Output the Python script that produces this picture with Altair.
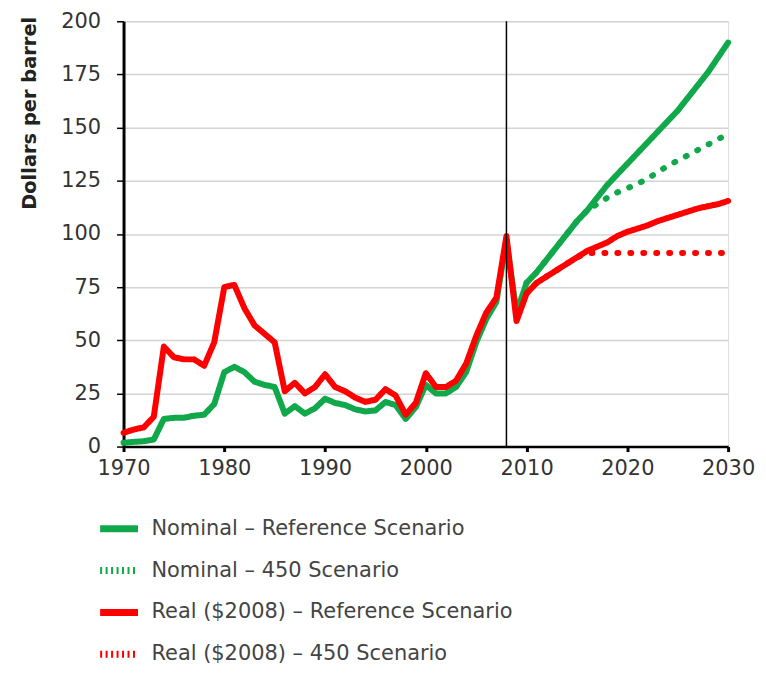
import altair as alt
import pandas as pd

years = list(range(1970, 2031))
proj_years = list(range(2010, 2031))

nominal_ref = [1.8, 2.2, 2.5, 3.3, 13, 13.5, 13.5, 14.5, 15, 20,
               35, 37.5, 35, 30.5, 29, 28, 15.5, 19, 15.5, 18,
               22.5, 20.5, 19.5, 17.5, 16.5, 17, 21, 19.5, 13, 18.5,
               29, 25, 25, 28, 35, 49, 60, 68, 97, 63,
               77, 82, 88, 94, 100, 106, 111, 117, 123, 128,
               133, 138, 143, 148, 153, 158, 164, 170, 176, 183, 190]
nominal_450 = [77, 82, 88, 94, 100, 106, 111, 114, 117, 119.5,
               121.5, 123.5, 126, 129, 132, 134.5, 137, 139.5, 142, 144.5, 147]
real_ref = [6.5, 8, 9, 14, 47, 42, 41, 41, 38, 49,
            75, 76, 65, 57, 53, 49, 26, 30, 25, 28,
            34, 28, 26, 23, 21, 22, 27, 24, 15, 20.5,
            34.5, 28, 28, 31, 39, 52, 63, 70, 99, 59,
            72, 77, 80, 83, 86, 89, 92, 94, 96, 99,
            101, 102.5, 104, 106, 107.5, 109, 110.5, 112, 113, 114, 115.5]
real_450 = [72, 77, 80, 83, 86, 89, 91, 91, 91, 91,
            91, 91, 91, 91, 91, 91, 91, 91, 91, 91, 91]

series_names = ["Nominal \u2013 Reference Scenario", "Nominal \u2013 450 Scenario",
                "Real ($2008) \u2013 Reference Scenario", "Real ($2008) \u2013 450 Scenario"]
colors = ["#10a84a", "#10a84a", "#ff0000", "#ff0000"]
line_dashes = [[1, 0], [1, 12], [1, 0], [1, 12]]
legend_dashes = [[1, 0], [2, 3.5], [1, 0], [2, 3.5]]
divider_year = 2008

rows = []
for name, xs, ys in [(series_names[1], proj_years, nominal_450),
                     (series_names[0], years, nominal_ref),
                     (series_names[3], proj_years, real_450),
                     (series_names[2], years, real_ref)]:
    for x, y in zip(xs, ys):
        rows.append({"year": x, "price": y, "series": name})
df = pd.DataFrame(rows)

FONT = "DejaVu Sans"

x_scale = alt.Scale(domain=[1970, 2030], nice=False)
y_scale = alt.Scale(domain=[0, 200], nice=False)
color_scale = alt.Scale(domain=series_names, range=colors)

x_enc = alt.X("year:Q", scale=x_scale,
              axis=alt.Axis(values=list(range(1970, 2031, 10)), format="d", title=None,
                            grid=False, domainColor="black", domainWidth=2.5,
                            tickColor="black", tickWidth=3, tickSize=5, labelFlush=False,
                            labelFontSize=21, labelColor="#333", labelFont=FONT,
                            labelPadding=6))
y_enc = alt.Y("price:Q", scale=y_scale,
              axis=alt.Axis(values=list(range(0, 201, 25)), title="Dollars per barrel",
                            grid=True, gridColor="#d4d4d4", gridWidth=1.5,
                            domainColor="black", domainWidth=3,
                            tickColor="black", tickWidth=1.5, tickSize=7,
                            labelFontSize=21, labelColor="#333", labelFont=FONT,
                            labelPadding=16,
                            titleFont=FONT, titleFontSize=19.5, titleFontWeight="bold",
                            titleColor="#222", titleAnchor="end", titleAngle=-90,
                            titleX=-94, titleY=-5, titleAlign="right", titleBaseline="middle"))

legend_cfg = dict(title=None, orient="none", legendX=-27, legendY=487,
                  direction="vertical", symbolType="stroke",
                  symbolSize=1444, symbolStrokeWidth=7,
                  labelFontSize=21, labelFont=FONT, labelColor="#444",
                  labelOffset=10, rowPadding=5, labelLimit=600)

lines = alt.Chart(df).mark_line(strokeWidth=6, strokeCap="round", strokeJoin="round").encode(
    x=x_enc,
    y=y_enc,
    color=alt.Color("series:N", scale=color_scale, legend=None),
    strokeDash=alt.StrokeDash("series:N", scale=alt.Scale(domain=series_names, range=line_dashes),
                              legend=None),
    detail="series:N",
)

legend_layer = alt.Chart(df).mark_line(strokeWidth=0, opacity=1).encode(
    x=alt.X("year:Q", scale=x_scale),
    y=alt.Y("price:Q", scale=y_scale),
    color=alt.Color("series:N", scale=color_scale, legend=alt.Legend(**legend_cfg)),
    strokeDash=alt.StrokeDash("series:N", scale=alt.Scale(domain=series_names, range=legend_dashes),
                              legend=alt.Legend(**legend_cfg)),
)

divider = alt.Chart(pd.DataFrame({"year": [divider_year]})).mark_rule(
    color="black", strokeWidth=1.5).encode(x=alt.X("year:Q", scale=x_scale))

chart = alt.layer(lines, legend_layer, divider).resolve_scale(
    strokeDash="independent"
).resolve_legend(
    strokeDash="independent", color="independent"
).properties(
    width=607, height=427,
    autosize=alt.AutoSizeParams(type="none"),
    padding={"left": 116, "top": 12, "right": 30, "bottom": 223},
).configure_view(stroke=None).configure(background="white")

chart.save("out.html", embed_options={"renderer": "svg", "actions": False})
